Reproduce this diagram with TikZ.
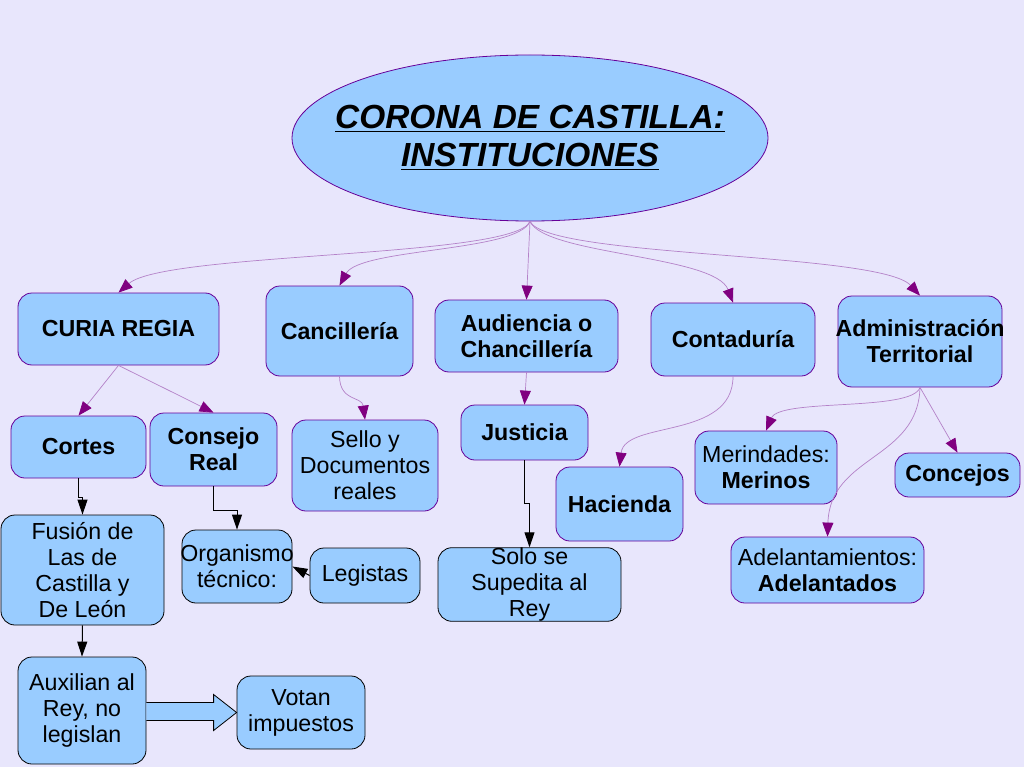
\documentclass[tikz,border=0pt]{standalone}
\usepackage{fontspec}
\setmainfont{Liberation Sans}
\usetikzlibrary{arrows.meta,shapes.geometric,calc}
\definecolor{bgcol}{RGB}{232,230,252}
\definecolor{boxfill}{RGB}{153,204,255}
\definecolor{boxline}{RGB}{102,0,153}
\definecolor{arrpurple}{RGB}{128,0,128}
\definecolor{linepurple}{RGB}{180,130,200}
\newcommand\ulTitle[1]{\setbox0\hbox{#1}\rlap{\rule[-3.5pt]{\wd0}{1.8pt}}\box0}
\newcommand\zw[1]{\makebox[0pt][c]{#1}}
\tikzset{
  box/.style={draw=boxline, line width=0.8pt, fill=boxfill, rounded corners=14pt,
    inner sep=0pt, align=center, font=\fontsize{23.2}{26}\selectfont},
  bbox/.style={box, draw=black},
  pconn/.style={draw=linepurple, line width=0.7pt,
    -{Triangle[length=14pt,width=11pt,color=arrpurple]}},
  kconn/.style={draw=black, line width=1pt,
    -{Triangle[length=15pt,width=10pt]}},
}
\begin{document}
\begin{tikzpicture}[x=1pt,y=-1pt]
\fill[bgcol] (0,0) rectangle (1024,767);
\useasboundingbox (0,0) rectangle (1024,767);

% title ellipse
\node[ellipse, draw=boxline, line width=0.8pt, fill=boxfill, inner sep=0pt,
  minimum width=476pt, minimum height=166pt] (title) at (530,138) {};
\node[align=center, inner sep=0pt,
  font=\fontsize{33.4}{38}\selectfont\bfseries\itshape] (titletext) at (title.center)
  {\ulTitle{CORONA DE CASTILLA:}\\\ulTitle{INSTITUCIONES}};

% first level
\node[box, minimum width=201pt, minimum height=72pt] (curia) at (118.5,329) {\bfseries CURIA REGIA};
\node[box, minimum width=147pt, minimum height=90pt] (canc) at (339.5,331) {\bfseries Cancillería};
\node[box, minimum width=183pt, minimum height=72pt] (aud) at (526.5,336) {\bfseries Audiencia o\\\bfseries Chancillería};
\node[box, minimum width=164pt, minimum height=73pt] (cont) at (733,339.5) {\bfseries Contaduría};
\node[box, minimum width=164pt, minimum height=91pt] (admin) at (920,341.5) {\zw{\bfseries Administración}\\\bfseries Territorial};

% second level
\node[box, minimum width=135pt, minimum height=62pt] (cortes) at (78.5,447) {\bfseries Cortes};
\node[box, minimum width=127pt, minimum height=73pt] (consejo) at (213.5,449.5) {\bfseries Consejo\\\bfseries Real};
\node[box, minimum width=146pt, minimum height=91pt] (sello) at (365,465.5) {Sello y\\Documentos\\reales};
\node[box, minimum width=127pt, minimum height=55pt] (justicia) at (524.5,432.5) {\bfseries Justicia};
\node[box, minimum width=127pt, minimum height=74pt] (hacienda) at (619.5,504) {\bfseries Hacienda};
\node[box, minimum width=142pt, minimum height=73pt] (merind) at (766,467.5) {Merindades:\\\bfseries Merinos};
\node[box, minimum width=125pt, minimum height=44pt] (concejos) at (957.5,475) {\bfseries Concejos};
\node[box, minimum width=193pt, minimum height=66pt] (adel) at (827.5,570) {Adelantamientos:\\\bfseries Adelantados};

% black-bordered boxes
\node[bbox, minimum width=163pt, minimum height=110pt] (fusion) at (82.5,570) {Fusión de\\Las de\\Castilla y\\De León};
\node[bbox, minimum width=110pt, minimum height=73pt] (org) at (237,566.5) {\zw{Organismo}\\técnico:};
\node[bbox, minimum width=110pt, minimum height=55pt] (legistas) at (365,575.5) {Legistas};
\node[bbox, minimum width=183pt, minimum height=73pt] (solo) at (529.5,584.5) {Solo se\\Supedita al\\Rey};
\node[bbox, minimum width=128pt, minimum height=107pt] (aux) at (82,710.5) {Auxilian al\\Rey, no\\legislan};
\node[bbox, minimum width=128pt, minimum height=73pt] (votan) at (301,712.5) {Votan\\impuestos};

% purple connectors from title
\draw[pconn] (title.south) .. controls (515,258) and (165,252) .. (curia.north);
\draw[pconn] (title.south) .. controls (518,252) and (360,248) .. (canc.north);
\draw[pconn] (title.south) -- (aud.north);
\draw[pconn] (title.south) .. controls (545,255) and (715,255) .. (cont.north);
\draw[pconn] (title.south) .. controls (548,258) and (880,252) .. (admin.north);

% purple connectors lower
\draw[pconn] (curia.south) -- (cortes.north);
\draw[pconn] (curia.south) -- (consejo.north);
\draw[pconn] (canc.south) .. controls (340,402) and (362,396) .. (sello.north);
\draw[pconn] (aud.south) -- (justicia.north);
\draw[pconn] (cont.south) .. controls (733,440) and (625,420) .. (hacienda.north);
\draw[pconn] (admin.south) .. controls (912,412) and (780,398) .. (merind.north);
\draw[pconn] (admin.south) .. controls (918,460) and (830,455) .. (adel.north);
\draw[pconn] (admin.south) -- (concejos.north);

% black connectors
\draw[kconn] (cortes.south) -- ++(0,19) -| (fusion.north);
\draw[kconn] (consejo.south) -- ++(0,24) -| (org.north);
\draw[kconn] (justicia.south) -- ++(0,43) -| (solo.north);
\draw[kconn] (fusion.south) -- (aux.north);
\draw[kconn] (legistas.west) -- (org.east);

% block arrow
\draw[black, line width=0.8pt, fill=boxfill]
  ($(aux.east)+(0,-8)$) -- ($(votan.west)+(-23,-10)$) -- ($(votan.west)+(-23,-18)$)
  -- (votan.west) -- ($(votan.west)+(-23,18)$) -- ($(votan.west)+(-23,8)$)
  -- ($(aux.east)+(0,10)$);
\end{tikzpicture}
\end{document}
